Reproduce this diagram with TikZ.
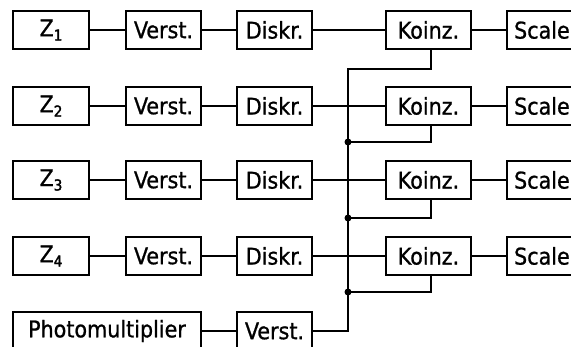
\documentclass[tikz,border=0pt]{standalone}
\usepackage{fontspec}
\setmainfont{DejaVu Sans Condensed}
\newfontfamily\lab{DejaVu Sans Condensed}[FakeBold=0.9]
\newfontfamily\labsub{DejaVu Sans Condensed}[FakeBold=2.2]
\newcommand{\zsub}[1]{Z\raisebox{-0.35ex}{\labsub\fontsize{15}{15}\selectfont #1}}
\begin{document}
\begin{tikzpicture}[x=1pt,y=-1pt,
  blk/.style={draw,line width=2.2pt,inner sep=0pt,minimum height=38pt,
    font=\lab\fontsize{23}{23}\selectfont,anchor=center},
  wire/.style={line width=1.9pt},
  junc/.style={circle,fill,inner sep=0pt,minimum size=7pt}]
\clip (0,0) rectangle (571,347);
\fill[white] (0,0) rectangle (571,347);
% columns: Z 13-89, Verst 126-201, Diskr 237-312, Koinz 386-471, Scale 506-580
\foreach \r/\y in {1/30,2/106,3/180,4/256}{
  \node[blk,minimum width=76pt] (z\r) at (51,\y) {\zsub{\r}};
  \node[blk,minimum width=75pt] (v\r) at (163.5,\y) {Verst.};
  \node[blk,minimum width=75pt] (d\r) at (274.5,\y) {Diskr.};
  \node[blk,minimum width=85pt] (k\r) at (428.5,\y) {Koinz.};
  \node[blk,anchor=west,inner xsep=7pt,text width=60pt,align=left] (s\r) at (506,\y) {Scale};
  \draw[wire] (z\r) -- (v\r);
  \draw[wire] (v\r) -- (d\r);
  \draw[wire] (d\r) -- (k\r);
  \draw[wire] (k\r) -- (s\r);
}
\node[blk,minimum width=188pt] (pm) at (107,331) {Photomultiplier};
\node[blk,minimum width=75pt] (v5) at (274.5,331) {Verst.};
\draw[wire] (pm) -- (v5);
% bus
\coordinate (b1) at (348,69);
\coordinate (b2) at (348,142);
\coordinate (b3) at (348,218);
\coordinate (b4) at (348,292);
\coordinate (b5) at (348,331);
\draw[wire] (k1.south -| 431,0) -- (431,69) -- (b1) -- (b5) -- (v5.east);
\draw[wire] (k2.south -| 431,0) -- (431,142) -- (b2);
\draw[wire] (k3.south -| 431,0) -- (431,218) -- (b3);
\draw[wire] (k4.south -| 431,0) -- (431,292) -- (b4);
\node[junc] at (b2) {};
\node[junc] at (b3) {};
\node[junc] at (b4) {};
\end{tikzpicture}
\end{document}
